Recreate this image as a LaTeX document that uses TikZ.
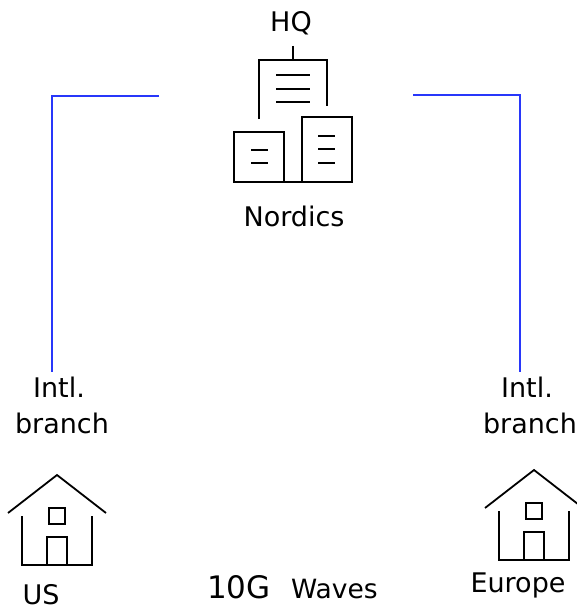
\documentclass[tikz,border=0pt]{standalone}
\usepackage{fontspec}
\setmainfont{DejaVu Sans}
\usetikzlibrary{positioning}
\definecolor{linkblue}{RGB}{40,55,250}

\begin{document}
\begin{tikzpicture}[x=1pt,y=-1pt]
\useasboundingbox (0,0) rectangle (577,610);

\begin{scope}[every node/.style={inner sep=0pt,anchor=base,font=\fontsize{27}{32}\selectfont}]
    \node (HQ) at (291,32) {HQ};
    \node (Nordics) at (294,226) {Nordics};
    \node (IntlUS) at (59,397) {Intl.};
    \node (BranchUS) at (62,433) {branch};
    \node (IntlEU) at (527,397) {Intl.};
    \node (BranchEU) at (530,433) {branch};
    \node (US) at (41,604) {US};
    \node (Europe) at (518,592) {Europe};
    \node[anchor=base west,font=\fontsize{31}{32}\selectfont] (Ten) at (207,598) {10G};
    \node[anchor=base west,font=\fontsize{26.5}{32}\selectfont,xshift=20pt] (Waves) at (Ten.base east) {Waves};
\end{scope}

% head office icon
\begin{scope}[line width=2.5pt]
    \draw (293,46) -- (293,60);
    \draw (259,119) -- (259,60) -- (327,60) -- (327,106);
    \foreach \y in {75,89,102}
        \draw (276,\y) -- (310,\y);
    \draw (284,182) -- (284,132) -- (234,132) -- (234,182) -- (352,182) -- (352,117) -- (302,117) -- (302,182);
    \foreach \y in {150,163}
        \draw (251,\y) -- (268,\y);
    \foreach \y in {136,149,163}
        \draw (318,\y) -- (335,\y);
\end{scope}

% branch houses
\foreach \hx/\hy in {57/475, 534/470}{
\begin{scope}[shift={(\hx,\hy)},line width=1.8pt]
    \draw (-49,38) -- (0,0) -- (49,38);
    \draw (-35,41) -- (-35,90) -- (35,90) -- (35,41);
    \draw (-8,33) rectangle (8,49);
    \draw (-10,90) -- (-10,62) -- (10,62) -- (10,90);
\end{scope}
}

% links
\coordinate (hqL) at (159,96);
\coordinate (hqR) at (413,95);
\coordinate (endUS) at (52,372);
\coordinate (endEU) at (520,372);
\begin{scope}[every path/.style={draw=linkblue,line width=2.5pt}]
    \path (hqL) -| (endUS);
    \path (hqR) -| (endEU);
\end{scope}
\end{tikzpicture}
\end{document}
